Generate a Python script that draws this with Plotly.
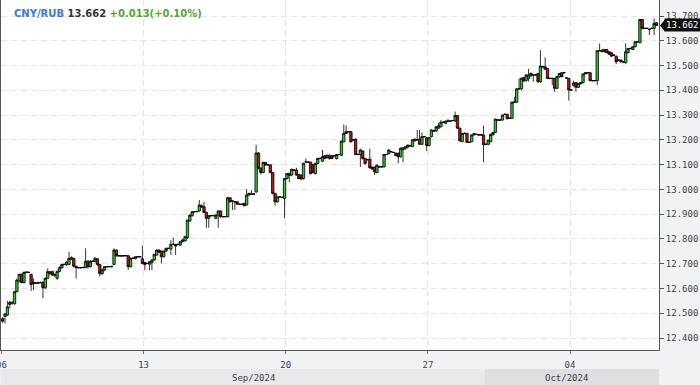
import plotly.graph_objects as go

# 2-hour candles, CNY/RUB, 06 Sep 2024 -> 09 Oct 2024 (weekends skipped)
opens = [
12.478,12.487,12.493,12.535,12.544,12.538,12.587,12.630,12.657,12.624,
12.665,12.665,12.657,12.625,12.622,12.622,12.624,12.625,12.603,12.641,
12.660,12.668,12.655,12.641,12.669,12.684,12.697,12.697,12.697,12.719,
12.721,12.690,12.684,12.684,12.684,12.684,12.710,12.688,12.710,12.710,
12.720,12.697,12.660,12.675,12.688,12.688,12.688,12.697,12.755,12.732,
12.732,12.731,12.733,12.732,12.688,12.722,12.720,12.728,12.728,12.720,
12.705,12.701,12.698,12.705,12.715,12.735,12.755,12.751,12.728,12.751,
12.762,12.759,12.778,12.778,12.778,12.775,12.789,12.792,12.805,12.872,
12.894,12.910,12.910,12.913,12.934,12.930,12.907,12.883,12.894,12.894,
12.883,12.896,12.913,12.890,12.890,12.890,12.966,12.953,12.950,12.950,
12.940,12.940,12.944,12.937,12.977,12.981,12.981,12.990,13.147,13.085,
13.068,13.109,13.099,13.099,13.068,12.984,12.950,12.970,12.968,12.963,
13.044,13.056,13.058,13.078,13.078,13.060,13.058,13.044,13.111,13.110,
13.110,13.100,13.064,13.105,13.125,13.114,13.136,13.128,13.138,13.136,
13.136,13.125,13.141,13.138,13.192,13.233,13.233,13.233,13.200,13.203,
13.141,13.141,13.155,13.125,13.120,13.122,13.090,13.090,13.068,13.091,
13.091,13.091,13.141,13.145,13.152,13.149,13.146,13.145,13.132,13.160,
13.166,13.171,13.176,13.173,13.196,13.200,13.203,13.182,13.213,13.209,
13.177,13.213,13.236,13.236,13.247,13.253,13.271,13.267,13.276,13.276,
13.278,13.276,13.298,13.247,13.193,13.226,13.226,13.190,13.193,13.220,
13.222,13.220,13.220,13.220,13.182,13.182,13.193,13.220,13.230,13.280,
13.280,13.280,13.303,13.303,13.287,13.287,13.352,13.352,13.406,13.406,
13.451,13.440,13.448,13.458,13.462,13.462,13.468,13.435,13.495,13.495,
13.488,13.448,13.448,13.448,13.408,13.455,13.471,13.471,13.450,13.448,
13.401,13.420,13.431,13.412,13.426,13.431,13.466,13.471,13.471,13.439,
13.439,13.439,13.560,13.556,13.556,13.565,13.556,13.552,13.542,13.538,
13.522,13.522,13.515,13.511,13.552,13.569,13.565,13.576,13.596,13.592,
13.686,13.650,13.650,13.646,13.650,13.650,13.673]

highs = [
12.485,12.500,12.550,12.550,12.548,12.590,12.640,12.660,12.660,12.668,
12.668,12.668,12.660,12.641,12.625,12.628,12.628,12.628,12.645,12.681,
12.670,12.672,12.660,12.672,12.690,12.700,12.700,12.710,12.748,12.730,
12.725,12.692,12.687,12.687,12.688,12.762,12.715,12.715,12.713,12.726,
12.722,12.700,12.680,12.690,12.690,12.690,12.692,12.762,12.758,12.735,
12.734,12.735,12.735,12.735,12.725,12.725,12.730,12.730,12.730,12.773,
12.707,12.703,12.710,12.717,12.740,12.758,12.758,12.752,12.753,12.765,
12.764,12.795,12.805,12.780,12.780,12.792,12.800,12.812,12.878,12.900,
12.912,12.912,12.913,12.957,12.940,12.950,12.910,12.896,12.896,12.897,
12.900,12.915,12.915,12.892,12.893,12.970,12.968,12.955,12.953,12.952,
12.943,12.942,12.946,13.001,12.986,12.997,12.984,13.180,13.150,13.090,
13.112,13.110,13.102,13.100,13.070,12.986,12.972,12.972,12.970,13.046,
13.066,13.068,13.084,13.080,13.087,13.062,13.060,13.108,13.125,13.113,
13.112,13.102,13.107,13.128,13.128,13.159,13.138,13.140,13.140,13.138,
13.138,13.143,13.143,13.197,13.262,13.257,13.236,13.236,13.203,13.205,
13.144,13.165,13.157,13.127,13.123,13.165,13.092,13.092,13.100,13.094,
13.093,13.143,13.144,13.162,13.155,13.152,13.149,13.150,13.170,13.170,
13.174,13.180,13.179,13.203,13.205,13.240,13.240,13.230,13.216,13.212,
13.212,13.243,13.239,13.255,13.267,13.280,13.274,13.278,13.284,13.279,
13.280,13.314,13.300,13.250,13.228,13.230,13.228,13.193,13.222,13.228,
13.225,13.223,13.224,13.257,13.185,13.200,13.225,13.232,13.286,13.283,
13.283,13.302,13.306,13.305,13.290,13.355,13.374,13.408,13.448,13.452,
13.455,13.465,13.486,13.472,13.465,13.465,13.470,13.562,13.498,13.533,
13.490,13.451,13.451,13.450,13.458,13.470,13.474,13.475,13.453,13.450,
13.404,13.439,13.433,13.430,13.433,13.468,13.473,13.474,13.473,13.442,
13.441,13.562,13.589,13.565,13.567,13.567,13.558,13.554,13.545,13.540,
13.525,13.524,13.518,13.589,13.571,13.572,13.578,13.598,13.599,13.688,
13.688,13.653,13.653,13.649,13.653,13.690,13.675]

lows = [
12.460,12.459,12.490,12.520,12.535,12.535,12.585,12.625,12.620,12.620,
12.662,12.662,12.590,12.594,12.618,12.618,12.620,12.560,12.598,12.638,
12.655,12.650,12.645,12.635,12.665,12.680,12.694,12.690,12.695,12.715,
12.685,12.640,12.681,12.680,12.682,12.682,12.680,12.685,12.706,12.705,
12.690,12.648,12.655,12.670,12.685,12.686,12.685,12.695,12.728,12.729,
12.730,12.728,12.730,12.675,12.685,12.719,12.718,12.725,12.726,12.698,
12.674,12.698,12.674,12.674,12.712,12.732,12.744,12.701,12.725,12.748,
12.759,12.735,12.776,12.735,12.775,12.772,12.786,12.790,12.800,12.870,
12.890,12.907,12.908,12.910,12.926,12.905,12.845,12.845,12.891,12.892,
12.880,12.845,12.886,12.887,12.888,12.887,12.946,12.917,12.917,12.938,
12.938,12.937,12.932,12.935,12.975,12.978,12.978,12.985,13.080,13.060,
13.065,13.095,13.096,13.065,12.980,12.934,12.946,12.967,12.965,12.883,
13.040,13.030,13.055,13.075,13.055,13.040,13.038,13.040,13.108,13.107,
13.060,13.065,13.060,13.100,13.122,13.110,13.122,13.125,13.120,13.122,
13.133,13.120,13.138,13.135,13.190,13.224,13.230,13.190,13.197,13.138,
13.138,13.090,13.120,13.100,13.117,13.085,13.080,13.058,13.065,13.088,
13.089,13.088,13.139,13.140,13.150,13.147,13.134,13.105,13.128,13.109,
13.160,13.165,13.173,13.170,13.193,13.198,13.180,13.180,13.210,13.155,
13.174,13.210,13.233,13.232,13.245,13.250,13.268,13.264,13.273,13.273,
13.275,13.273,13.245,13.193,13.190,13.222,13.188,13.187,13.190,13.218,
13.219,13.217,13.217,13.110,13.179,13.178,13.190,13.218,13.228,13.277,
13.278,13.278,13.300,13.283,13.284,13.285,13.349,13.350,13.403,13.400,
13.435,13.435,13.435,13.455,13.435,13.459,13.430,13.430,13.492,13.483,
13.445,13.445,13.421,13.394,13.405,13.450,13.452,13.468,13.447,13.358,
13.398,13.415,13.394,13.410,13.424,13.428,13.464,13.468,13.436,13.436,
13.437,13.421,13.557,13.553,13.553,13.550,13.543,13.535,13.539,13.506,
13.519,13.513,13.509,13.508,13.550,13.566,13.562,13.574,13.593,13.590,
13.647,13.647,13.647,13.623,13.647,13.623,13.660]

closes = [
12.468,12.497,12.526,12.544,12.542,12.587,12.634,12.657,12.624,12.665,
12.666,12.665,12.616,12.620,12.622,12.622,12.624,12.603,12.641,12.668,
12.668,12.654,12.655,12.669,12.684,12.697,12.697,12.707,12.721,12.724,
12.690,12.684,12.684,12.684,12.685,12.710,12.688,12.710,12.710,12.722,
12.697,12.660,12.675,12.688,12.688,12.688,12.689,12.755,12.732,12.732,
12.731,12.733,12.732,12.688,12.722,12.722,12.728,12.728,12.728,12.701,
12.697,12.701,12.708,12.715,12.738,12.755,12.746,12.728,12.751,12.762,
12.762,12.778,12.778,12.771,12.778,12.789,12.796,12.809,12.876,12.896,
12.910,12.910,12.911,12.937,12.929,12.907,12.883,12.894,12.894,12.894,
12.896,12.913,12.890,12.890,12.890,12.966,12.950,12.953,12.950,12.940,
12.940,12.940,12.934,12.977,12.984,12.981,12.982,13.147,13.085,13.068,
13.109,13.099,13.099,13.068,12.984,12.950,12.970,12.970,12.968,13.044,
13.064,13.064,13.081,13.078,13.058,13.044,13.042,13.105,13.111,13.110,
13.064,13.068,13.105,13.125,13.125,13.132,13.125,13.138,13.125,13.125,
13.136,13.141,13.141,13.195,13.226,13.226,13.233,13.192,13.200,13.141,
13.141,13.159,13.125,13.105,13.120,13.087,13.082,13.071,13.098,13.091,
13.091,13.141,13.141,13.159,13.152,13.149,13.136,13.132,13.166,13.168,
13.172,13.179,13.176,13.200,13.203,13.200,13.182,13.213,13.213,13.177,
13.209,13.240,13.236,13.253,13.257,13.271,13.271,13.276,13.276,13.276,
13.278,13.298,13.247,13.196,13.226,13.226,13.190,13.190,13.220,13.225,
13.222,13.220,13.220,13.180,13.182,13.199,13.222,13.230,13.284,13.280,
13.280,13.300,13.303,13.285,13.287,13.352,13.352,13.406,13.406,13.449,
13.438,13.462,13.462,13.468,13.462,13.462,13.435,13.498,13.495,13.485,
13.448,13.448,13.448,13.408,13.455,13.468,13.455,13.471,13.450,13.401,
13.401,13.430,13.412,13.428,13.431,13.466,13.471,13.471,13.439,13.439,
13.439,13.560,13.560,13.562,13.565,13.552,13.546,13.538,13.542,13.515,
13.522,13.515,13.515,13.556,13.569,13.569,13.576,13.596,13.596,13.686,
13.650,13.650,13.650,13.646,13.650,13.670,13.662]

candles_per_day = 12
tick_candle = [0, 60, 120, 180, 240]          # Fridays: 06, 13, 20, 27 Sep, 04 Oct
tick_labels = ["06", "13", "20", "27", "04"]
month_labels = ["Sep/2024", "Oct/2024"]
month_start_candle = 204                      # 01 Oct
last_price = 13.662
change_text = "+0.013(+0.10%)"
symbol = "CNY/RUB"

x = list(range(len(closes)))

GREEN = "#2fc22f"
RED = "#b0181c"
FONT = "DejaVu Sans Mono"

fig = go.Figure(go.Candlestick(
    x=x, open=opens, high=highs, low=lows, close=closes,
    increasing=dict(fillcolor=GREEN, line=dict(color="#000000", width=0.8)),
    decreasing=dict(fillcolor=RED, line=dict(color="#000000", width=0.8)),
    whiskerwidth=0, hoverinfo="skip", showlegend=False,
))

xr = [-0.71, 277.07]
fig.update_layout(
    width=700, height=385,
    margin=dict(l=1, r=41, t=0, b=35, autoexpand=False),
    paper_bgcolor="#f1f2f4", plot_bgcolor="#ffffff",
    showlegend=False,
    boxgap=0.0, boxgroupgap=0.0,
    xaxis=dict(
        range=xr, rangeslider=dict(visible=False), automargin=False,
        tickvals=[t - 0.5 for t in tick_candle], ticktext=tick_labels,
        showgrid=True, gridcolor="#e4e4e4", griddash="6px,4px", gridwidth=1,
        showline=True, linecolor="#555555", linewidth=1,
        ticks="outside", ticklen=3, tickcolor="#777777",
        ticklabelstandoff=3, ticklabeloverflow="allow",
        tickfont=dict(family=FONT, size=9, color="#444444"),
        zeroline=False, fixedrange=True,
    ),
    yaxis=dict(
        range=[12.3516, 13.7646], side="right", automargin=False,
        tick0=12.4, dtick=0.1, tickformat=".3f",
        showgrid=True, gridcolor="#e4e4e4", griddash="6px,4px", gridwidth=1,
        showline=True, linecolor="#555555", linewidth=1, mirror=True,
        ticks="outside", ticklen=4, tickcolor="#555555",
        tickfont=dict(family=FONT, size=9, color="#444444"),
        zeroline=False, fixedrange=True,
    ),
)

# month band below the axis
band_y0, band_y1 = -0.1, -0.054
fig.add_shape(type="rect", xref="x", yref="paper", x0=xr[0] - 5, x1=month_start_candle - 0.5,
              y0=band_y0, y1=band_y1, fillcolor="#e9e9eb", line=dict(width=0), layer="below")
fig.add_shape(type="rect", xref="x", yref="paper", x0=month_start_candle - 0.5, x1=xr[1],
              y0=band_y0, y1=band_y1, fillcolor="#dedfe1", line=dict(width=0), layer="below")
fig.add_annotation(x=106, y=-0.079, xref="x", yref="paper", yanchor="middle", text=month_labels[0],
                   showarrow=False, borderpad=0, font=dict(family=FONT, size=9, color="#444444"))
fig.add_annotation(x=238, y=-0.079, xref="x", yref="paper", yanchor="middle", text=month_labels[1],
                   showarrow=False, borderpad=0, font=dict(family=FONT, size=9, color="#444444"))

# last price marker
fig.add_shape(type="path", xref="paper", yref="y", xsizemode="pixel", ysizemode="pixel",
              xanchor=1, yanchor=last_price, path="M 1 0 L 6 6 L 6 -6 Z",
              fillcolor="#111111", line=dict(width=0))
fig.add_annotation(x=1, y=last_price, xref="paper", yref="y", xanchor="left", xshift=5,
                   text=f"{last_price:.3f}", showarrow=False, bgcolor="#111111",
                   borderpad=1, font=dict(family=FONT, size=9, color="#ffffff"))

# title
title = (f"<b><span style='color:#3a78e0'>{symbol}</span> "
         f"<span style='color:#333333'>{last_price:.3f}</span> "
         f"<span style='color:#55a532'>{change_text}</span></b>")
fig.add_annotation(x=0.016, y=1 - 13 / 350, xref="paper", yref="paper", xanchor="left",
                   yanchor="middle", text=title, showarrow=False,
                   font=dict(family="DejaVu Sans", size=10))

fig.write_html("out.html", config={"displayModeBar": False},
               post_script="document.body.style.margin='0';")
